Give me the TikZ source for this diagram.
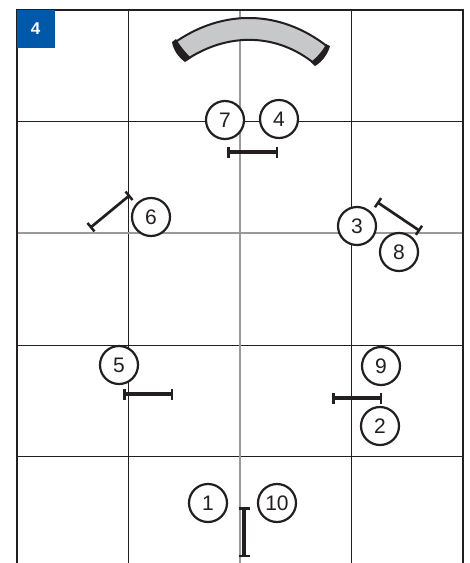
\documentclass[tikz,border=0pt]{standalone}
\usepackage{fontspec}
\setmainfont{Liberation Sans}
\usetikzlibrary{arrows.meta}
\definecolor{boxblue}{HTML}{0058A9}
\definecolor{inkk}{HTML}{231F20}
\definecolor{midgray}{HTML}{9A9A9A}
\definecolor{bandgray}{HTML}{C7C8CA}
\tikzset{
  x=1pt,y=-1pt,
  gridline/.style={draw=inkk,line width=0.8pt},
  grayline/.style={draw=midgray,line width=1.4pt},
  frameline/.style={draw=inkk,line width=2pt},
  num/.style={circle,draw=inkk,fill=white,line width=2.2pt,minimum size=38pt,inner sep=0pt,text=inkk,font=\fontsize{21}{25}\selectfont},
  hurdle/.style={draw=inkk,line width=3.2pt,{Bar[width=11pt,line width=2.5pt]}-{Bar[width=11pt,line width=2.5pt]}},
  hurdlediag/.style={hurdle,line width=2.7pt},
}
\begin{document}
\begin{tikzpicture}
\useasboundingbox (0,0) rectangle (470,563);
\draw[gridline] (128,10) -- (128,563);
\draw[gridline] (351,10) -- (351,563);
\draw[gridline] (17,121) -- (463,121);
\draw[gridline] (17,345) -- (463,345);
\draw[gridline] (17,456) -- (463,456);
\draw[grayline] (17,233) -- (463,233);
\draw[grayline] (240,10) -- (240,563);
\draw[frameline] (17,563) -- (17,10) -- (463,10) -- (463,563);
\node[fill=boxblue,minimum size=38pt,inner sep=0pt,text=white,font=\fontsize{17}{20}\selectfont\bfseries] (badge) at (35.5,28.5) {4};
% curved band
\draw[draw=inkk,fill=bandgray,line width=2pt] (174,43) .. controls (222,9) and (280,9) .. (328,47)
  -- (315,64) .. controls (277,33) and (228,32) .. (186,60) -- cycle;
\fill[inkk] (172,42) -- (176,39) .. controls (180,46) and (186,53) .. (191,58) -- (185,62) .. controls (178,57) and (173,49) .. (172,42) -- cycle;
\fill[inkk] (330,46) -- (326,44) .. controls (323,51) and (316,58) .. (311,62) -- (315,66) .. controls (322,62) and (328,54) .. (330,46) -- cycle;
% hurdles
\coordinate (h1a) at (227,152); \coordinate (h1b) at (278,152);
\coordinate (h2a) at (90,228);  \coordinate (h2b) at (130,195);
\coordinate (h3a) at (377,202); \coordinate (h3b) at (420,231);
\coordinate (h4a) at (123,394); \coordinate (h4b) at (173,394);
\coordinate (h5a) at (332,398); \coordinate (h5b) at (382,398);
\coordinate (h6a) at (244,507); \coordinate (h6b) at (244,557);
\draw[hurdle] (h1a) -- (h1b);
\draw[hurdlediag] (h2a) -- (h2b);
\draw[hurdlediag] (h3a) -- (h3b);
\draw[hurdle] (h4a) -- (h4b);
\draw[hurdle] (h5a) -- (h5b);
\draw[hurdle] (h6a) -- (h6b);
% numbers
\node[num] (n7) at (225,120) {7};
\node[num] (n4) at (279,119) {4};
\node[num] (n6) at (151,217) {6};
\node[num] (n3) at (357,226) {3};
\node[num] (n8) at (399,252) {8};
\node[num] (n5) at (119,365) {5};
\node[num] (n9) at (381,366) {9};
\node[num] (n2) at (380,426) {2};
\node[num] (n1) at (208,503) {1};
\node[num] (n10) at (277,503) {10};
\end{tikzpicture}
\end{document}
